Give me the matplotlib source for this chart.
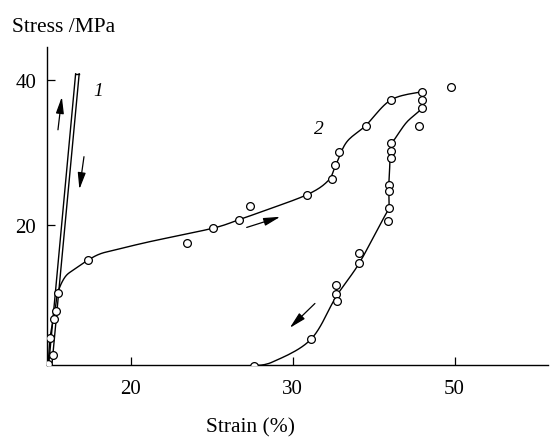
import numpy as np
import matplotlib.pyplot as plt

plt.rcParams['font.family'] = ['Liberation Serif', 'DejaVu Serif']

# strain axis: ticks at 20, 30, 40 (the figure labels the last one "50")
tick_pos = [20, 30, 40]
tick_lab = ['20', '30', '50']
ytick_pos = [20, 40]

# curve 1: narrow elastic loop (loading / unloading lines)
c1_up_x = [14.95, 16.60]
c1_up_y = [1.0, 40.8]
c1_dn_x = [15.15, 16.82]
c1_dn_y = [1.0, 40.8]

# curve 2 loading path
c2_load_x = [14.90, 15.02, 15.33, 15.49, 15.95, 16.56, 17.35, 18.10, 19.03, 21.19,
             25.06, 26.69, 27.98, 30.86, 32.18, 32.65, 33.33, 34.51, 36.07, 38.00]
c2_load_y = [0.65, 4.37, 8.23, 10.58, 12.79, 13.90, 15.09, 15.96, 16.51, 17.66,
             19.50, 20.69, 21.71, 24.10, 26.03, 28.14, 31.37, 33.66, 37.20, 38.34]

# curve 2 unloading path
c2_unl_x = [38.00, 38.00, 38.00, 37.04, 36.31, 36.07, 36.01, 35.94, 35.94, 35.70,
            34.11, 32.72, 31.13, 28.80, 27.61]
c2_unl_y = [38.34, 37.20, 36.10, 34.12, 31.82, 31.23, 28.61, 25.38, 22.30, 21.24,
            14.68, 10.21, 4.19, 1.10, 0.55]

# measured points
pts_x = [14.91, 15.19, 15.02, 15.28, 15.37, 15.49, 17.35,
         23.48, 25.06, 26.69, 27.36, 30.86, 32.43, 32.63, 32.84, 34.50, 36.07,
         38.00, 38.00, 38.00, 39.77, 37.80,
         36.07, 36.07, 36.07, 35.95, 35.95, 35.95, 35.88, 34.10, 34.10,
         32.70, 32.70, 32.75, 31.13, 27.61]
pts_y = [0.79, 2.03, 4.33, 7.00, 8.14, 10.54, 15.09,
         17.43, 19.50, 20.69, 22.62, 24.10, 26.30, 28.20, 30.00, 33.66, 37.20,
         38.35, 37.20, 36.10, 39.00, 33.66,
         31.20, 30.20, 29.20, 25.40, 24.70, 22.30, 20.50, 16.10, 14.70,
         11.70, 10.50, 9.48, 4.19, 0.55]


def smooth(xs, ys, n=12):
    # Catmull-Rom through the path vertices, just for drawing
    p = np.column_stack([xs, ys])
    p = np.vstack([p[0], p, p[-1]])
    out = []
    for i in range(1, len(p) - 2):
        p0, p1, p2, p3 = p[i - 1], p[i], p[i + 1], p[i + 2]
        for t in np.linspace(0, 1, n, endpoint=False):
            t2, t3 = t * t, t * t * t
            out.append(0.5 * (2 * p1 + (-p0 + p2) * t + (2 * p0 - 5 * p1 + 4 * p2 - p3) * t2
                              + (-p0 + 3 * p1 - 3 * p2 + p3) * t3))
    out.append(p[-2])
    out = np.array(out)
    return out[:, 0], out[:, 1]


fig = plt.figure(figsize=(5.51, 4.39), dpi=100)
ax = fig.add_axes([0.0858, 0.167, 0.9085, 0.7237])

ax.plot(c1_up_x, c1_up_y, color='black', lw=1.0)
ax.plot(c1_dn_x, c1_dn_y, color='black', lw=1.0)
ax.plot([c1_up_x[1], c1_dn_x[1]], [c1_up_y[1], c1_dn_y[1]], color='black', lw=1.0)

ax.plot(*smooth(c2_load_x, c2_load_y), color='black', lw=1.0)
ax.plot(*smooth(c2_unl_x, c2_unl_y), color='black', lw=1.0)

ax.plot(pts_x, pts_y, 'o', ms=5.6, mfc='white', mec='black', mew=0.9, zorder=5)

arrow = dict(arrowstyle='-|>,head_length=1.0,head_width=0.24', color='black', lw=0.9)
ax.annotate('', xy=(15.77, 38.0), xytext=(15.49, 32.7), arrowprops=arrow)
ax.annotate('', xy=(16.81, 24.5), xytext=(17.14, 29.75), arrowprops=arrow)
ax.annotate('', xy=(29.4, 21.2), xytext=(27.0, 19.5), arrowprops=arrow)
ax.annotate('', xy=(29.7, 5.5), xytext=(31.5, 9.4), arrowprops=arrow)

ax.text(18.0, 38.5, '1', fontsize=14, style='italic', ha='center', va='center')
ax.text(31.64, 33.3, '2', fontsize=14, style='italic', ha='center', va='center')

ax.set_xlim(14.85, 45.76)
ax.set_ylim(0.69, 44.5)
ax.set_xticks(tick_pos)
ax.set_xticklabels(tick_lab)
ax.set_yticks(ytick_pos)
ax.tick_params(direction='in', length=5.5, width=0.9, labelsize=15)
ax.tick_params(axis='x', pad=10)
ax.tick_params(axis='y', pad=8)
for s in ['top', 'right']:
    ax.spines[s].set_visible(False)
for s in ['left', 'bottom']:
    ax.spines[s].set_linewidth(1.0)

fig.text(0.022, 1 - 27 / 439, 'Stress /MPa', fontsize=15.5, ha='left', va='center')
fig.text(251 / 551, 1 - 428 / 439, 'Strain (%)', fontsize=15.5, ha='center', va='center')

plt.savefig('out.png', dpi=100)
